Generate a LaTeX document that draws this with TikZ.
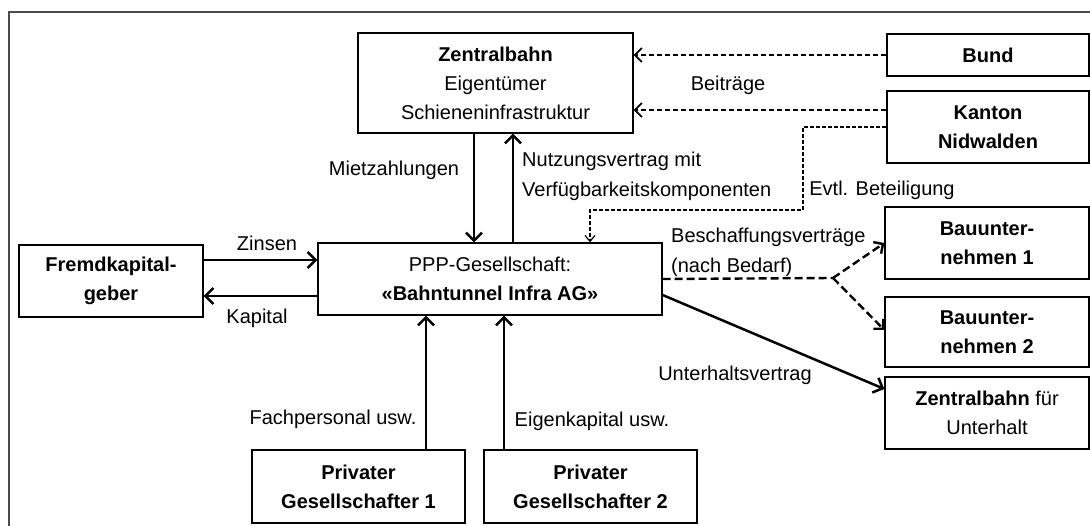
\documentclass[tikz,border=0pt]{standalone}
\usepackage{fontspec}
\setmainfont{Liberation Sans}
\usetikzlibrary{arrows.meta}
\usetikzlibrary{calc}

\tikzset{
  box/.style={draw, line width=1.3pt, align=center, inner sep=0pt, font=\fontsize{20}{29}\selectfont},
  lbl/.style={align=center, inner sep=0pt, font=\fontsize{20}{30}\selectfont},
  flow/.style={line width=2.5pt, -{Straight Barb[length=8pt,width=16pt]}},
  fund/.style={line width=1.8pt, dash pattern=on 5pt off 3pt, -{Straight Barb[length=7pt,width=14pt]}},
  share/.style={line width=1.2pt, dash pattern=on 4pt off 2pt, -{Straight Barb[length=6pt,width=10pt]}},
  order/.style={line width=2.4pt, dash pattern=on 8pt off 4pt, -{Straight Barb[length=7pt,width=14pt]}}
}

\begin{document}
\begin{tikzpicture}[x=1pt, y=-1pt]
    \useasboundingbox (0,0) rectangle (1090,526);
    \draw[gray!60!black, line width=1.2pt] (9,526) -- (9,12) -- (1090,12);

    \node[box, minimum width=275pt, minimum height=100pt] (zb) at (495.5,83) {\textbf{Zentralbahn}\\Eigentümer\\Schieneninfrastruktur};
    \node[box, minimum width=202pt, minimum height=42pt] (bund) at (988,55) {\textbf{Bund}};
    \node[box, minimum width=202pt, minimum height=72pt] (kanton) at (988,127) {\textbf{Kanton}\\\textbf{Nidwalden}};
    \node[box, minimum width=344pt, minimum height=72pt] (ppp) at (490,279) {PPP-Gesellschaft:\\\textbf{«Bahntunnel Infra AG»}};
    \node[box, minimum width=184pt, minimum height=72pt] (fk) at (111,281) {\textbf{Fremdkapital-}\\\textbf{geber}};
    \node[box, minimum width=204pt, minimum height=72pt] (bau1) at (987,243) {\textbf{Bauunter-}\\\textbf{nehmen 1}};
    \node[box, minimum width=204pt, minimum height=70pt] (bau2) at (987,332) {\textbf{Bauunter-}\\\textbf{nehmen 2}};
    \node[box, minimum width=204pt, minimum height=72pt] (zbu) at (987,413) {\textbf{Zentralbahn} für\\Unterhalt};
    \node[box, minimum width=213pt, minimum height=73pt] (priv1) at (358.5,486.5) {\textbf{Privater}\\\textbf{Gesellschafter 1}};
    \node[box, minimum width=213pt, minimum height=73pt] (priv2) at (590.5,486.5) {\textbf{Privater}\\\textbf{Gesellschafter 2}};

    \coordinate (bend) at (803,210);
    \coordinate (split) at (833,278);

    \draw[fund] (bund.west) -- (bund.west -| zb.east);
    \draw[fund] ([yshift=17pt]kanton.west) -- ([yshift=17pt]kanton.west -| zb.east);
    \draw[share] (kanton.west) -| (bend) -| ([xshift=100pt]ppp.north);

    \draw[flow] ([xshift=-21.5pt]zb.south) -- ([xshift=-21.5pt]zb.south |- ppp.north);
    \draw[flow] ([xshift=23pt]ppp.north) -- ([xshift=23pt]ppp.north |- zb.south);
    \draw[flow] ([yshift=21pt]fk.east) -- ([yshift=21pt]fk.east -| ppp.west);
    \draw[flow] ([yshift=-17pt]ppp.west) -- ([yshift=-17pt]ppp.west -| fk.east);
    \draw[flow] ([xshift=67.5pt]priv1.north) -- ([xshift=67.5pt]priv1.north |- ppp.south);
    \draw[flow] ([xshift=-86.5pt]priv2.north) -- ([xshift=-86.5pt]priv2.north |- ppp.south);

    \draw[line width=2.4pt, dash pattern=on 8pt off 4pt] (ppp.east) -- (split);
    \draw[order] (split) -- (bau1.west);
    \draw[order] (split) -- ([yshift=2pt]bau2.west);
    \draw[flow] ([yshift=-16pt]ppp.east) -- ([yshift=24pt]zbu.west);

    \node[lbl] (beitraege) at (728,85) {Beiträge};
    \node[lbl] (miete) at (394,170) {Mietzahlungen};
    \node[lbl, anchor=west, align=left] (nutzung) at (522,176) {Nutzungsvertrag mit\\Verfügbarkeitskomponenten};
    \node[lbl] (evtl) at (882,190) {Evtl. Beteiligung};
    \node[lbl] (zinsen) at (267,243) {Zinsen};
    \node[lbl] (kapital) at (257,318) {Kapital};
    \node[lbl, anchor=west, align=left] (beschaffung) at (671,252) {Beschaffungsverträge\\(nach Bedarf)};
    \node[lbl] (unterhalt) at (735,375) {Unterhaltsvertrag};
    \node[lbl] (fach) at (333,419) {Fachpersonal usw.};
    \node[lbl] (eigen) at (592,421) {Eigenkapital usw.};
\end{tikzpicture}
\end{document}
